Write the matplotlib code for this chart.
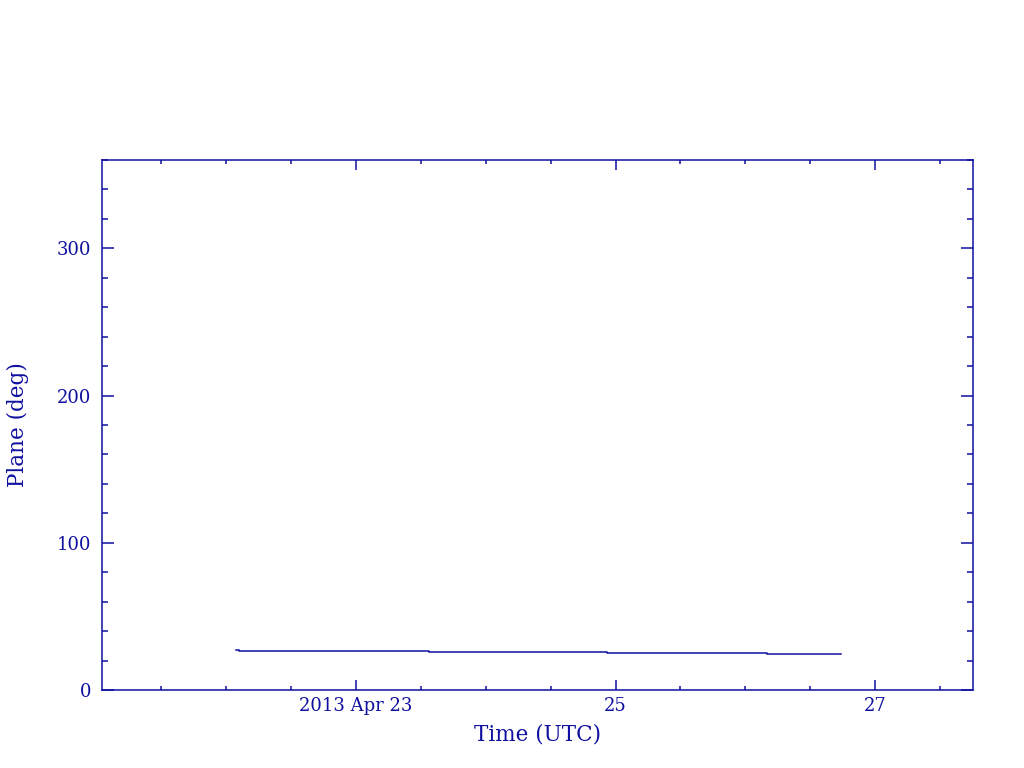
import matplotlib
matplotlib.use("Agg")
import matplotlib.pyplot as plt
import matplotlib.dates as mdates
import pandas as pd

# step-wise plane angle readings
times = pd.to_datetime([
    "2013-04-22 01:47", "2013-04-22 02:25", "2013-04-22 02:25",
    "2013-04-23 13:30", "2013-04-23 13:30", "2013-04-24 22:25",
    "2013-04-24 22:25", "2013-04-26 04:02", "2013-04-26 04:02",
    "2013-04-26 17:40",
])
plane = [27.0, 27.0, 26.3, 26.3, 25.6, 25.6, 25.0, 25.0, 24.3, 24.3]

xlim = pd.to_datetime(["2013-04-21 01:00", "2013-04-27 18:07"])
col = "#1010a0"

plt.rcParams['font.family'] = ['DejaVu Serif']

fig = plt.figure(figsize=(10.24, 7.68), dpi=100)
ax = fig.add_axes([102 / 1024, 78 / 768, 871 / 1024, 530 / 768])
ax.plot(times, plane, color=col, lw=1.1)

ax.set_xlim(xlim[0], xlim[1])
ax.set_ylim(0, 360)
ax.set_yticks([0, 100, 200, 300])
ax.yaxis.set_minor_locator(plt.MultipleLocator(20))

ax.xaxis.set_major_locator(mdates.DayLocator(bymonthday=[23, 25, 27]))
ax.xaxis.set_minor_locator(mdates.HourLocator(byhour=[0, 12]))


def fmt(x, pos):
    d = mdates.num2date(x)
    if d.day == 23:
        return "2013 Apr 23"
    return str(d.day)


ax.xaxis.set_major_formatter(plt.FuncFormatter(fmt))

for s in ax.spines.values():
    s.set_color(col)
    s.set_linewidth(1.1)
ax.tick_params(which='both', direction='in', top=True, right=True, colors=col,
               labelsize=13, width=1.1)
ax.tick_params(axis='y', which='major', length=8.5, pad=8)
ax.tick_params(axis='y', which='minor', length=4)
ax.tick_params(axis='x', which='major', length=7, pad=5)
ax.tick_params(axis='x', which='minor', length=3)

ax.set_xlabel("Time (UTC)", color=col, fontsize=15.5, labelpad=6)
ax.set_ylabel("Plane (deg)", color=col, fontsize=15.5, labelpad=20)

fig.savefig("out.png", dpi=100)
